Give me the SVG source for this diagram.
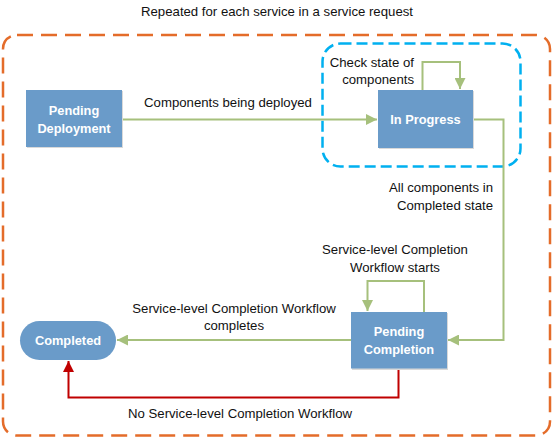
<svg xmlns="http://www.w3.org/2000/svg" width="554" height="439" viewBox="0 0 554 439">
<defs>
<style>
.t{font-family:"Liberation Sans",Arial,sans-serif;font-size:13.2px;fill:#111}
.n{font-family:"Liberation Sans",Arial,sans-serif;font-size:12.8px;font-weight:bold;fill:#fff;text-anchor:middle}
.box{fill:#6a9bc9;stroke:none}
.sh{fill:#d9d9d9}
.g{fill:none;stroke:#a6c07c;stroke-width:2}
.r{fill:none;stroke:#c00000;stroke-width:2}
</style>
<marker id="ag" viewBox="0 0 10 10" refX="10" refY="5" markerWidth="5.5" markerHeight="5.5" orient="auto"><path d="M0,0L10,5L0,10z" fill="#a6c07c"/></marker>
<marker id="ar" viewBox="0 0 10 10" refX="10" refY="5" markerWidth="5.5" markerHeight="5.5" orient="auto"><path d="M0,0L10,5L0,10z" fill="#c00000"/></marker>
</defs>
<rect width="554" height="439" fill="#fff"/>
<text class="t" x="277" y="16" text-anchor="middle">Repeated for each service in a service request</text>
<rect x="3" y="35" width="547" height="400.5" rx="14" fill="none" stroke="#e46c2a" stroke-width="2.5" stroke-dasharray="16 8"/>
<rect x="322.5" y="43.5" width="198" height="123" rx="18" fill="none" stroke="#00b0f0" stroke-width="2.5" stroke-dasharray="11 5"/>
<g id="connectors">
<path class="g" d="M122,119.5H377" marker-end="url(#ag)"/>
<path class="g" d="M422.5,90V62H460V89" marker-end="url(#ag)"/>
<path class="g" d="M473,119.5H503.5V340H448" marker-end="url(#ag)"/>
<path class="g" d="M424,312V281H367.5V311" marker-end="url(#ag)"/>
<path class="g" d="M351,340H117" marker-end="url(#ag)"/>
<path class="r" d="M398.5,368V397.5H68.5V361" marker-end="url(#ar)"/>
<text class="t" x="228" y="107" text-anchor="middle">Components being deployed</text>
<text class="t" x="414" y="67" text-anchor="end">Check state of</text>
<text class="t" x="414" y="84" text-anchor="end">components</text>
<text class="t" x="493" y="192" text-anchor="end">All components in</text>
<text class="t" x="493" y="210" text-anchor="end">Completed state</text>
<text class="t" x="395" y="254" text-anchor="middle">Service-level Completion</text>
<text class="t" x="395" y="271.5" text-anchor="middle">Workflow starts</text>
<text class="t" x="234" y="313" text-anchor="middle">Service-level Completion Workflow</text>
<text class="t" x="234" y="330" text-anchor="middle">completes</text>
<text class="t" x="240" y="418" text-anchor="middle">No Service-level Completion Workflow</text>
</g>
<g id="pending-deployment">
<rect class="sh" x="27" y="91" width="96" height="57"/>
<rect class="box" x="26" y="90" width="96" height="57"/>
<text class="n" x="74" y="115">Pending</text>
<text class="n" x="74" y="133">Deployment</text>
</g>
<g id="in-progress">
<rect class="sh" x="379" y="91" width="95" height="58"/>
<rect class="box" x="378" y="90" width="95" height="58"/>
<text class="n" x="425.5" y="124">In Progress</text>
</g>
<g id="pending-completion">
<rect class="sh" x="352" y="313" width="96" height="57"/>
<rect class="box" x="351" y="312" width="96" height="56.5"/>
<text class="n" x="399" y="336">Pending</text>
<text class="n" x="399" y="354">Completion</text>
</g>
<g id="completed">
<rect class="box" x="20" y="321" width="96" height="39" rx="19.5"/>
<text class="n" x="68" y="345">Completed</text>
</g>
</svg>
